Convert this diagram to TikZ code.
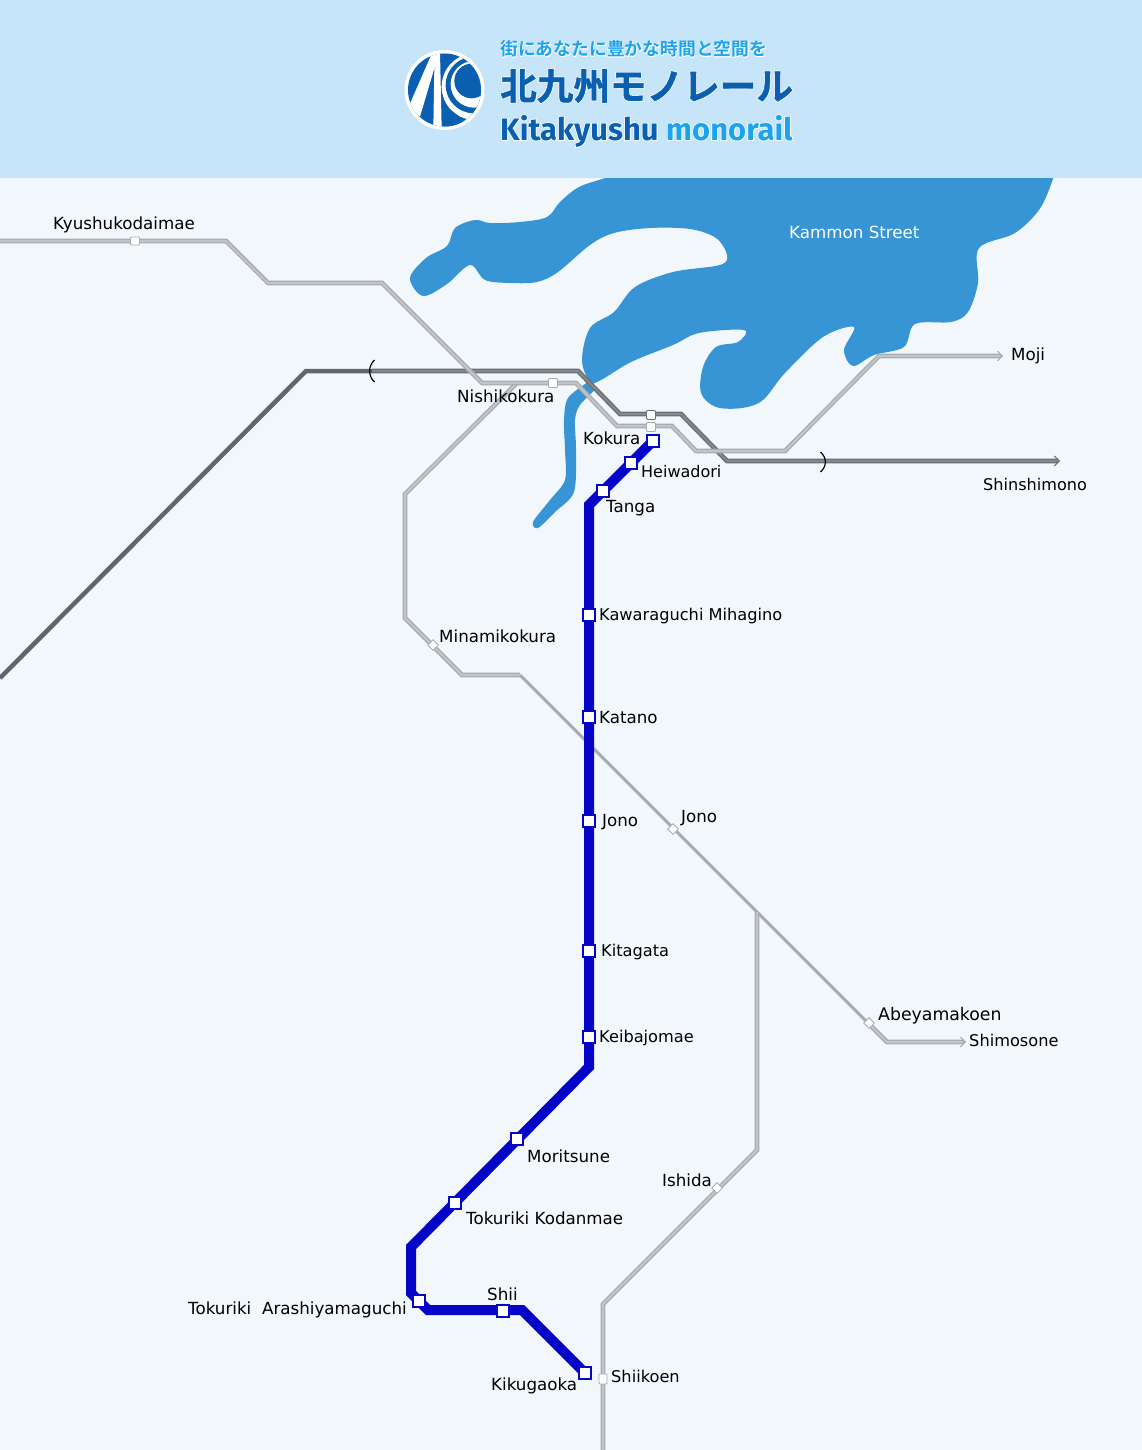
\documentclass[tikz,border=0pt]{standalone}
\usepackage{fontspec}
\usepackage{xcolor}
\usetikzlibrary{arrows.meta}
\setmainfont{DejaVu Sans}
\newfontfamily\jpfont[FakeBold=1.2]{Noto Sans CJK JP Bold}
\newfontfamily\jpsmall{Noto Sans CJK JP Bold}
\newfontfamily\jphalo[FakeBold=5]{Noto Sans CJK JP Bold}
\newfontfamily\enfont{Fira Sans}
\newfontfamily\enhalo[FakeBold=5]{Fira Sans Bold}
\definecolor{bgc}{HTML}{F2F7FB}
\definecolor{headc}{HTML}{C7E5F8}
\definecolor{seac}{HTML}{3795D5}
\definecolor{logoc}{HTML}{0A5FB0}
\definecolor{skyc}{HTML}{1DA3EA}
\definecolor{railc}{HTML}{A9ADB1}
\definecolor{railin}{HTML}{C2C5C8}
\definecolor{thinc}{HTML}{A8ACB0}
\definecolor{darkc}{HTML}{6C7176}
\definecolor{darkin}{HTML}{858A8E}
\definecolor{darkerc}{HTML}{62656F}
\definecolor{monoc}{HTML}{0505C8}
\tikzset{
  x=1pt,y=-1pt,
  rail/.style={draw=railc,line width=1.3pt,double=railin,double distance=2pt,line join=miter},
  thinrail/.style={draw=thinc,line width=3pt},
  darkrail/.style={draw=darkc,line width=1.5pt,double=darkin,double distance=1.7pt},
  mono/.style={draw=monoc,line width=10pt,line join=miter},
  monost/.style={draw=monoc,fill=white,line width=2pt,minimum size=11.5pt,inner sep=0pt,rectangle},
  jrst/.style={draw=thinc,fill=white,line width=.8pt,minimum width=9pt,minimum height=8pt,inner sep=0pt,rounded corners=1pt,rectangle},
  jrdia/.style={draw=thinc,fill=white,line width=.8pt,minimum size=7.5pt,inner sep=0pt,rectangle,rotate=45},
  lab/.style={font=\fontsize{16.7}{18}\selectfont,text=black,anchor=west,inner sep=0pt},
  tipline/.style={line width=1.2pt,-{Straight Barb[length=5pt,width=10pt,line width=1pt]}},
}
\begin{document}
\begin{tikzpicture}
\useasboundingbox (0,0) rectangle (1142,1450);
\fill[bgc] (0,0) rectangle (1142,1450);
% sea
\begin{scope}
\clip (0,178) rectangle (1142,1450);
\fill[seac] plot[smooth,tension=.55] coordinates {
(640,165)(605,178)(579,187)(560,202)(547,217)(520,222)(490,223)(475,220)(455,228)(447,246)(426,258)(410,278)(423,296)(447,284)(470,265)(485,280)(510,283)(537,282)(558,272)(590,245)(614,233)(650,228)(690,229)(716,238)(727,255)(720,265)(673,272)(635,287)(614,312)(590,328)(582,360)(590,382)(601,380)(631,362)(673,345)(699,333)(744,330)(738,342)(716,347)(703,367)(701,393)(716,407)(742,408)(763,400)(785,373)(823,337)(854,327)(844,350)(853,366)(874,355)(904,347)(915,324)(951,322)(968,312)(978,283)(979,248)(1015,233)(1041,207)(1056,170)} -- cycle;
\end{scope}
\fill[seac] plot[smooth,tension=.5] coordinates {(588,382)(568,398)(564,420)(565,450)(565,480)(550,500)(533,522)(538,528)(555,512)(574,492)(576,450)(575,420)(580,405)(597,388)} -- cycle;
\fill[headc] (0,0) rectangle (1142,178);
% coordinates
\foreach \n/\p in {a1/{0,241},a2/{226,241},a3/{268,283},a4/{382,283},a5/{482,383},a6/{576,383},a7/{617,426},a8/{672,426},a9/{696,451},a10/{785,451},a11/{879,356},a12/{1000,356},
 b1/{0,678},b2/{306,371},b3/{578,371},b4/{620,414},b5/{681,414},b6/{727,461},b7/{1058,461},
 c1/{517,383},c2/{405,494},c3/{405,618},c4/{462,675},c5/{520,675},c6/{887,1042},c7/{963,1042},
 d1/{757,912},d2/{757,1150},d3/{603,1304},d4/{603,1450},
 m1/{589,505},m2/{589,1067},m3/{411,1247},m4/{411,1293},m5/{428,1310},m6/{522,1310},
 e1/{372,371},e2/{869,1024},e3/{966,1042},e4/{1003,356},e5/{1060,461}}
  {\coordinate (\n) at (\p);}
\coordinate (m0) at (653,441);
\coordinate (m7) at (585,1373);
% lines
\draw[rail] (c1) -- (c2) -- (c3) -- (c4) -- (c5);
\draw[thinrail] (c5) -- (e2);
\draw[rail] (e2) -- (c6) -- (c7);
\draw[rail] (d1) -- (d2) -- (d3) -- (d4);
\draw[darkerc,line width=4.5pt] (b1) -- (b2) -- (e1);
\draw[darkrail] (e1) -- (b3) -- (b4) -- (b5) -- (b6) -- (b7);
\draw[darkc,tipline] (b7) -- (e5);
\draw[rail] (a1) -- (a2) -- (a3) -- (a4) -- (a5) -- (a6) -- (a7) -- (a8) -- (a9) -- (a10) -- (a11) -- (a12);
\draw[railc,tipline] (a12) -- (e4);
\draw[railc,tipline] (c7) -- (e3);
\draw[mono] (m0) -- (m1) -- (m2) -- (m3) -- (m4) -- (m5) -- (m6) -- (m7);
% tunnel marks
\draw[black,line width=1.2pt] (374.5,360) .. controls (368,366) and (368,376) .. (374.5,382);
\draw[black,line width=1.2pt] (820.5,452) .. controls (827,458) and (827,466) .. (820.5,472);
% JR stations
\node[jrst] (s1) at (135,241) {};
\node[jrst,minimum width=9pt,minimum height=9pt] (s2) at (553,383) {};
\node[jrst,draw=darkc,minimum width=9pt,minimum height=9pt] (s3) at (651,415) {};
\node[jrst,minimum width=9pt,minimum height=9pt] (s4) at (651,427) {};
\node[jrdia] (s5) at (433,645) {};
\node[jrdia] (s6) at (673,829) {};
\node[jrdia] (s7) at (869,1023) {};
\node[jrdia] (s8) at (717,1188) {};
\node[jrst,minimum width=8pt,minimum height=10pt] (s9) at (603,1379) {};
% monorail stations
\foreach \n/\p in {k1/{653,441},k2/{631,463},k3/{603,491},k4/{589,615},k5/{589,717},k6/{589,821},k7/{589,951},k8/{589,1037},k9/{517,1139},k10/{455,1203},k11/{419,1301},k12/{503,1311},k13/{585,1373}}
  {\node[monost] (\n) at (\p) {};}
% labels
\node[lab] (t1) at (53,225) {Kyushukodaimae};
\node[lab] (t2) at (457,396) {Nishikokura};
\node[lab] (t3) at (583,438) {Kokura};
\node[lab,font=\fontsize{16}{18}\selectfont] (t4) at (641,472) {Heiwadori};
\node[lab] (t5) at (606,508) {Tanga};
\node[lab,font=\fontsize{16.2}{18}\selectfont] (t6) at (599,616) {Kawaraguchi Mihagino};
\node[lab] (t7) at (439,636) {Minamikokura};
\node[lab] (t8) at (599,718) {Katano};
\node[lab] (t9) at (602,822) {Jono};
\node[lab] (t10) at (681,818) {Jono};
\node[lab,font=\fontsize{16.2}{18}\selectfont] (t11) at (601,952) {Kitagata};
\node[lab,font=\fontsize{16.2}{18}\selectfont] (t12) at (599,1038) {Keibajomae};
\node[lab] (t13) at (527,1156) {Moritsune};
\node[lab] (t14) at (466,1218) {Tokuriki Kodanmae};
\node[lab] (t15) at (188,1310) {Tokuriki\hspace{5.5pt} Arashiyamaguchi};
\node[lab] (t16) at (487,1294) {Shii};
\node[lab] (t17) at (491,1386) {Kikugaoka};
\node[lab,font=\fontsize{16.2}{18}\selectfont] (t18) at (611,1376) {Shiikoen};
\node[lab] (t19) at (662,1180) {Ishida};
\node[lab,font=\fontsize{17.3}{18}\selectfont] (t20) at (878,1016) {Abeyamakoen};
\node[lab,font=\fontsize{16.2}{18}\selectfont] (t21) at (969,1040) {Shimosone};
\node[lab] (t22) at (1011,356) {Moji};
\node[lab,font=\fontsize{16.1}{18}\selectfont] (t23) at (983,484) {Shinshimono};
\node[lab,text=white] (t24) at (789,232) {Kammon Street};
% logo
\fill[white] (444.5,90) circle[radius=40];
\begin{scope}
\clip (444.5,90) circle[radius=36.5];
\fill[logoc] (444.5,90) circle[radius=37];
\begin{scope}[shift={(400,45)},x=.3333pt,y=-.3333pt]
\fill[white] (225,125) circle[radius=100];
\fill[logoc] (125,175) -- (195,228) -- (130,255) -- cycle;
\fill[logoc] (222,120) circle[radius=85];
\fill[white] (222,118) circle[radius=70];
\fill[logoc] (215,108) circle[radius=52];
\fill[white] (98,20) -- (103,70) -- (60,215) -- (26,185) -- cycle;
\fill[white] (96,20) -- (103,70) -- (100,250) -- (125,250) -- (120,20) -- cycle;
\end{scope}
\end{scope}
% title with halo
\node[inner sep=0pt,anchor=west,text=white,font=\jphalo\fontsize{17.8}{20}\selectfont] (h1) at (500,49) {街にあなたに豊かな時間と空間を};
\node[inner sep=0pt,anchor=west,text=skyc,font=\jpsmall\fontsize{17.8}{20}\selectfont] (h1b) at (500,49) {街にあなたに豊かな時間と空間を};
\node[inner sep=0pt,anchor=west,text=white,font=\jphalo\fontsize{36.6}{40}\selectfont] (h2) at (500,86) {北九州モノレール};
\node[inner sep=0pt,anchor=west,text=logoc,font=\jpfont\fontsize{36.6}{40}\selectfont] (h2b) at (500,86) {北九州モノレール};
\node[inner sep=0pt,anchor=west,text=white,font=\enhalo\fontsize{31}{34}\selectfont] (h3) at (500,131) {Kitakyushu monorail};
\node[inner sep=0pt,anchor=west,font=\enfont\bfseries\fontsize{31}{34}\selectfont] (h3b) at (500,131) {\textcolor{logoc}{Kitakyushu} \textcolor{skyc}{monorail}};
\end{tikzpicture}
\end{document}
